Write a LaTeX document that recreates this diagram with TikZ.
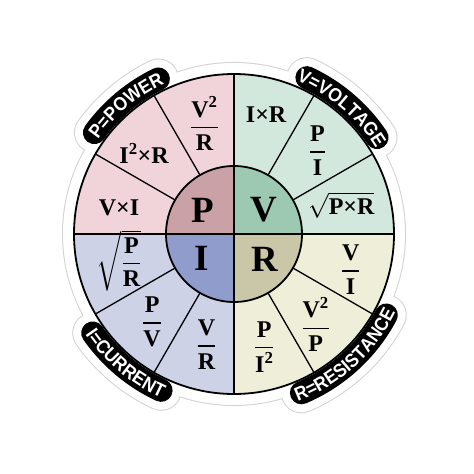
\documentclass[tikz,border=0pt]{standalone}
\usepackage{amsmath}
\usepackage{fontspec}
\setmainfont{Liberation Serif}
\setsansfont{Liberation Sans}[FakeStretch=0.92]
\usetikzlibrary{decorations.text}

\definecolor{powbg}{HTML}{F1D4D9}
\definecolor{powin}{HTML}{C9A1A7}
\definecolor{volbg}{HTML}{D3E8DC}
\definecolor{volin}{HTML}{9DC9B3}
\definecolor{curbg}{HTML}{CED2E7}
\definecolor{curin}{HTML}{909CCC}
\definecolor{resbg}{HTML}{EFEED8}
\definecolor{resin}{HTML}{CAC7A8}

\tikzset{
    spoke/.style={
           draw=black,
           line width=1.3pt,
           },
}
\tikzset{
    band/.style={
           black,
           line width=23pt,
           line cap=round,
           },
}
\tikzset{
    formula/.style={
           inner sep=0pt,
           font=\fontsize{24}{27}\selectfont\bfseries,
           },
}
\tikzset{
    letter/.style={
           inner sep=0pt,
           font=\fontsize{37}{40}\selectfont\bfseries,
           },
}

\newcommand{\fr}[2]{$\genfrac{}{}{1.4pt}{0}{\mbox{\bfseries #1}}{\mbox{\bfseries #2}}$}
\newcommand{\bandfont}{\fontsize{19}{19}\selectfont\sffamily\bfseries\color{white}}

\begin{document}
\begin{tikzpicture}[x=1pt,y=1pt]
\useasboundingbox (-234,-240) rectangle (240,234);
\coordinate (C) at (0,0);
% sticker edge
\fill[gray!35] (C) circle (172);
\draw[gray!35, line width=41pt, line cap=round] (144:172.5) arc (144:116:172.5);
\draw[gray!35, line width=41pt, line cap=round] (65:172.5) arc (65:34:172.5);
\draw[gray!35, line width=41pt, line cap=round] (215:172.5) arc (215:245:172.5);
\draw[gray!35, line width=41pt, line cap=round] (293:172.5) arc (293:332:172.5);
\fill[white] (C) circle (171);
\draw[white, line width=39pt, line cap=round] (144:172.5) arc (144:116:172.5);
\draw[white, line width=39pt, line cap=round] (65:172.5) arc (65:34:172.5);
\draw[white, line width=39pt, line cap=round] (215:172.5) arc (215:245:172.5);
\draw[white, line width=39pt, line cap=round] (293:172.5) arc (293:332:172.5);
% quadrants
\fill[powbg] (C) -- (90:160) arc (90:180:160) -- cycle;
\fill[volbg] (C) -- (0:160) arc (0:90:160) -- cycle;
\fill[curbg] (C) -- (180:160) arc (180:270:160) -- cycle;
\fill[resbg] (C) -- (270:160) arc (270:360:160) -- cycle;
\fill[powin] (C) -- (90:68) arc (90:180:68) -- cycle;
\fill[volin] (C) -- (0:68) arc (0:90:68) -- cycle;
\fill[curin] (C) -- (180:68) arc (180:270:68) -- cycle;
\fill[resin] (C) -- (270:68) arc (270:360:68) -- cycle;
% lines
\draw[spoke] (30:68) -- (30:160);
\draw[spoke] (60:68) -- (60:160);
\draw[spoke] (120:68) -- (120:160);
\draw[spoke] (150:68) -- (150:160);
\draw[spoke] (210:68) -- (210:160);
\draw[spoke] (240:68) -- (240:160);
\draw[spoke] (300:68) -- (300:160);
\draw[spoke] (330:68) -- (330:160);
\draw[spoke, line width=1.6pt] (-160,0) -- (160,0);
\draw[spoke, line width=1.6pt] (0,-160) -- (0,160);
\draw[black, line width=1.8pt] (C) circle (68);
\draw[black, line width=1.8pt] (C) circle (160);
% bands
\draw[band] (144:172.5) arc (144:116:172.5);
\draw[band] (65:172.5) arc (65:34:172.5);
\draw[band] (215:172.5) arc (215:245:172.5);
\draw[band] (293:172.5) arc (293:332:172.5);
\path[decorate, decoration={text along path, text align=center, text={|\bandfont|P=POWER}}] (160:165.6) arc (160:100:165.6);
\path[decorate, decoration={text along path, text align=center, text={|\bandfont|V=VOLTAGE}}] (80:165.6) arc (80:19:165.6);
\path[decorate, decoration={text along path, text align=center, text={|\bandfont|I=CURRENT}}] (200:179.4) arc (200:260:179.4);
\path[decorate, decoration={text along path, text align=center, text={|\bandfont|R=RESISTANCE}}] (278:179.4) arc (278:347:179.4);
% centre letters
\node[letter] (p) at (-31,24) {P};
\node[letter] (v) at (30,24) {V};
\node[letter] (i) at (-32,-24) {I};
\node[letter] (r) at (31,-25) {R};
% formulas
\node[formula] (vsqr) at (105:114) {\fr{V\textsuperscript{2}}{R}};
\node[formula] (isqr) at (138:121) {I\textsuperscript{2}×R};
\node[formula] (vti) at (167:118) {V×I};
\node[formula] (itr) at (75:124) {I×R};
\node[formula] (pi) at (45:118) {\fr{P}{I}};
\node[formula] (rootpr) at (15:111) {$\sqrt{\mbox{\bfseries P×R}}$};
\node[formula] (rootpovr) at (193:118) {$\sqrt{\genfrac{}{}{1.4pt}{0}{\mbox{\bfseries P}}{\mbox{\bfseries R}}}$};
\node[formula] (pv) at (227:120) {\fr{P}{V}};
\node[formula] (vr) at (256:114) {\fr{V}{R}};
\node[formula] (vi) at (343:122) {\fr{V}{I}};
\node[formula] (vsqp) at (312:122) {\fr{V\textsuperscript{2}}{P}};
\node[formula] (pisq) at (285:117) {\fr{P}{I\textsuperscript{2}}};
\end{tikzpicture}
\end{document}
